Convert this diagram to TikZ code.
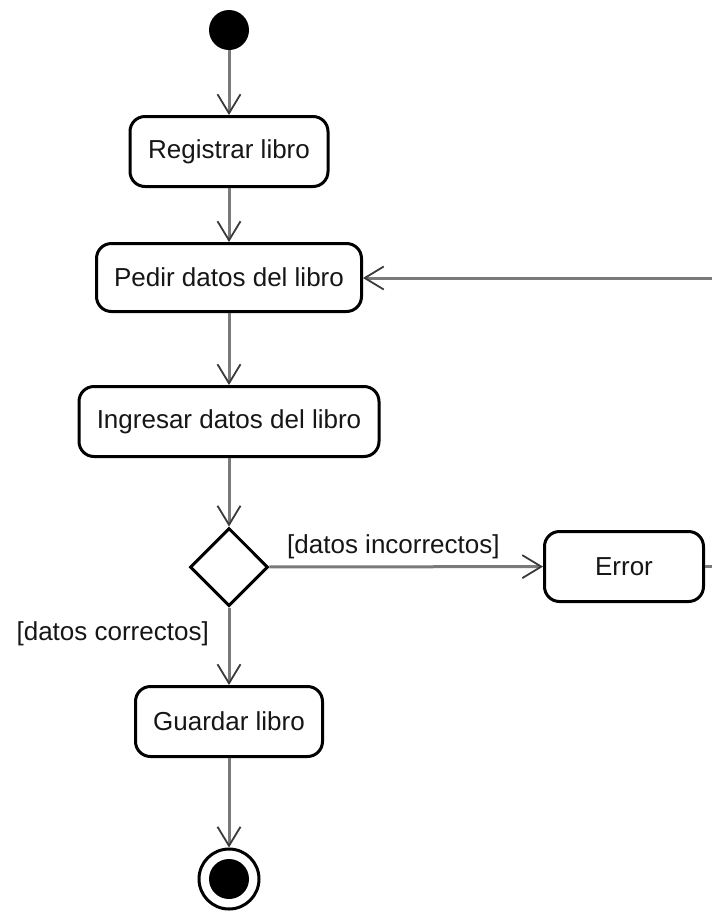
\documentclass[tikz,border=0pt]{standalone}
\usepackage{fontspec}
\setmainfont{Liberation Sans}
\usetikzlibrary{arrows.meta,shapes.geometric}
\definecolor{flowgray}{HTML}{7A7A7A}
\definecolor{tipgray}{HTML}{3A3A3A}
\definecolor{ink}{HTML}{161616}
\begin{document}
\begin{tikzpicture}[x=1pt,y=-1pt,
  every node/.style={font=\fontsize{26}{30}\selectfont, text=ink},
  action/.style={draw=black, line width=3pt, rounded corners=15pt, fill=white,
                 inner sep=0pt, minimum height=70pt},
  flow/.style={draw=flowgray, line width=3pt,
               -{Straight Barb[length=19pt,width=23pt,line width=1.8pt,color=tipgray]}},
  guard/.style={inner sep=0pt}
]
\useasboundingbox (0,0) rectangle (712,914);
\clip (0,0) rectangle (712,914);

% start and end markers
\node[circle, fill=black, inner sep=0pt, minimum size=40pt] (start) at (229,30) {};
\node[circle, draw=black, line width=3pt, fill=white, inner sep=0pt, minimum size=60pt] (stop) at (229,879) {};
\fill[black] (stop.center) circle (20pt);

% actions
\node[action, minimum width=198pt] (reg) at (229,151.5) {Registrar libro};
\node[action, minimum width=265pt, minimum height=68pt] (pedir) at (229,277.5) {Pedir datos del libro};
\node[action, minimum width=300pt] (ingresar) at (229,421.5) {Ingresar datos del libro};
\node[diamond, draw=black, line width=3pt, fill=white, inner sep=0pt,
      minimum width=78pt, minimum height=78pt] (dec) at (229,567) {};
\node[action, minimum width=159pt] (error) at (624,566.5) {Error};
\node[action, minimum width=187pt] (guardar) at (229,721.5) {Guardar libro};

% guard labels
\node[guard, anchor=west] (gbad) at (287,547) {[datos incorrectos]};
\node[guard, anchor=east] (ggood) at (209,634) {[datos correctos]};

% control flow
\draw[flow] (start) -- (reg);
\draw[flow] (reg) -- (pedir);
\draw[flow] (pedir) -- (ingresar);
\draw[flow] (ingresar) -- (dec);
\draw[flow] (dec) -- (error);
\draw[flow] (dec) -- (guardar);
\draw[flow] (guardar) -- (stop);

% loop back from the error state
\coordinate (loopout) at (760,566.5);
\coordinate (loopin) at (760,278);
\draw[flow] (error.east) -- (loopout) -- (loopin) -- (pedir.east |- loopin);
\end{tikzpicture}
\end{document}
